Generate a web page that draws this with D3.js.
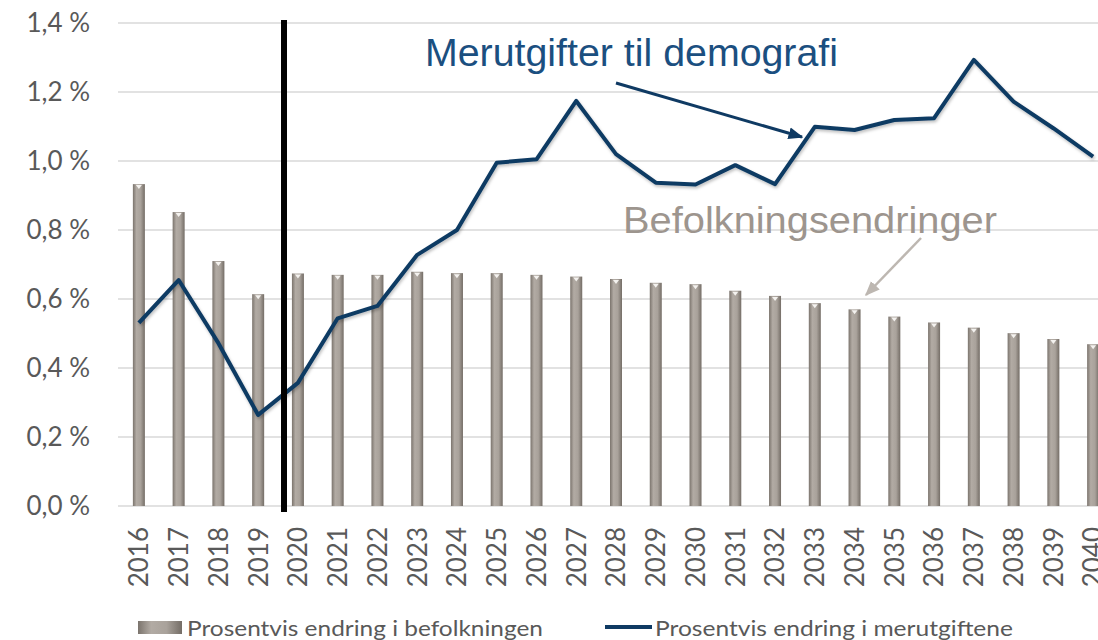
<!DOCTYPE html>
<html>
<head>
<meta charset="utf-8">
<script src="https://cdn.jsdelivr.net/npm/d3@7"></script>
<style>
  body { margin: 0; background: #fff; }
  svg { display: block; }
</style>
</head>
<body>
<div id="chart"></div>
<script>
const years = ["2016", "2017", "2018", "2019", "2020", "2021", "2022", "2023", "2024", "2025",
               "2026", "2027", "2028", "2029", "2030", "2031", "2032", "2033", "2034", "2035",
               "2036", "2037", "2038", "2039", "2040"];

// Prosentvis endring i befolkningen
const befolkning = [0.933, 0.852, 0.710, 0.614, 0.674, 0.670, 0.670, 0.679, 0.675, 0.675,
                    0.670, 0.665, 0.658, 0.647, 0.643, 0.624, 0.609, 0.588, 0.570, 0.549,
                    0.532, 0.517, 0.501, 0.484, 0.469];

// Prosentvis endring i merutgiftene
const merutgifter = [0.531, 0.655, 0.472, 0.264, 0.357, 0.544, 0.580, 0.728, 0.800, 0.995,
                     1.005, 1.174, 1.020, 0.937, 0.932, 0.988, 0.933, 1.099, 1.090, 1.119,
                     1.124, 1.293, 1.172, 1.095, 1.013];

const yTicks = [0, 0.2, 0.4, 0.6, 0.8, 1.0, 1.2, 1.4];

const legendLabels = ["Prosentvis endring i befolkningen", "Prosentvis endring i merutgiftene"];

const data = years.map((year, i) => ({ year, pop: befolkning[i], cost: merutgifter[i] }));

const width = 1098, height = 640;

const svg = d3.select("#chart")
    .append("svg")
    .attr("width", width)
    .attr("height", height);

const defs = svg.append("defs");

const barGrad = defs.append("linearGradient")
    .attr("id", "barGrad")
    .attr("x1", "0%").attr("x2", "100%").attr("y1", "0%").attr("y2", "0%");
barGrad.append("stop").attr("offset", "0%").attr("stop-color", "#7b746d");
barGrad.append("stop").attr("offset", "30%").attr("stop-color", "#b2aba4");
barGrad.append("stop").attr("offset", "65%").attr("stop-color", "#a9a29b");
barGrad.append("stop").attr("offset", "100%").attr("stop-color", "#746d66");

const shadow = defs.append("filter").attr("id", "lineShadow")
    .attr("x", "-5%").attr("y", "-5%").attr("width", "110%").attr("height", "120%");
shadow.append("feDropShadow")
    .attr("dx", 1).attr("dy", 2).attr("stdDeviation", 1.5)
    .attr("flood-color", "#000").attr("flood-opacity", 0.25);

const x = d3.scaleBand()
    .domain(years)
    .range([119, 1113])
    .paddingInner(0)
    .paddingOuter(0);

const y = d3.scaleLinear()
    .domain([0, 1.4])
    .range([506, 23]);

const fmt = d => d3.format(".1f")(d).replace(".", ",") + " %";

// gridlines
svg.append("g")
    .selectAll("line")
    .data(yTicks)
    .enter().append("line")
    .attr("x1", 118)
    .attr("x2", width)
    .attr("y1", d => y(d))
    .attr("y2", d => y(d))
    .attr("stroke", "#d9d9d9")
    .attr("stroke-width", 1.5);

// y axis labels
svg.append("g")
    .selectAll("text")
    .data(yTicks)
    .enter().append("text")
    .attr("x", 90)
    .attr("y", d => y(d))
    .attr("dy", "0.36em")
    .attr("text-anchor", "end")
    .attr("font-family", "Lato, 'Open Sans', sans-serif")
    .attr("font-size", 26)
    .attr("fill", "#595959")
    .text(fmt);

// bars
const barW = 12;
const bars = svg.append("g");
bars.selectAll("rect")
    .data(data)
    .enter().append("rect")
    .attr("x", d => x(d.year) + x.bandwidth() / 2 - barW / 2)
    .attr("y", d => y(d.pop))
    .attr("width", barW)
    .attr("height", d => y(0) - y(d.pop))
    .attr("fill", "url(#barGrad)");

// small bevel highlight on bar tops
bars.selectAll("path")
    .data(data)
    .enter().append("path")
    .attr("d", d => {
        const cx = x(d.year) + x.bandwidth() / 2, top = y(d.pop);
        return `M${cx - 3},${top + 1}L${cx + 3},${top + 1}L${cx},${top + 5}Z`;
    })
    .attr("fill", "#f4f2ef");

// x axis labels (rotated)
svg.append("g")
    .selectAll("text")
    .data(years)
    .enter().append("text")
    .attr("transform", d => `translate(${x(d) + x.bandwidth() / 2},527) rotate(-90)`)
    .attr("dy", "0.36em")
    .attr("text-anchor", "end")
    .attr("font-family", "Lato, 'Open Sans', sans-serif")
    .attr("font-size", 26)
    .attr("fill", "#595959")
    .text(d => d);

// line
const line = d3.line()
    .x(d => x(d.year) + x.bandwidth() / 2)
    .y(d => y(d.cost));

svg.append("path")
    .datum(data)
    .attr("d", line)
    .attr("fill", "none")
    .attr("stroke", "#0f3a63")
    .attr("stroke-width", 4)
    .attr("stroke-linejoin", "round")
    .attr("filter", "url(#lineShadow)");

// vertical divider between 2019 and 2020
const divX = x("2019") + x.bandwidth() * 1.15;
svg.append("line")
    .attr("x1", divX).attr("x2", divX)
    .attr("y1", 20).attr("y2", 512)
    .attr("stroke", "#000")
    .attr("stroke-width", 6);

// annotations
defs.append("marker")
    .attr("id", "arrowBlue")
    .attr("viewBox", "0 0 10 10")
    .attr("refX", 9).attr("refY", 5)
    .attr("markerWidth", 5).attr("markerHeight", 5)
    .attr("orient", "auto")
    .append("path").attr("d", "M0,1L10,5L0,9Z").attr("fill", "#0f3a63");

defs.append("marker")
    .attr("id", "arrowGray")
    .attr("viewBox", "0 0 10 10")
    .attr("refX", 9).attr("refY", 5)
    .attr("markerWidth", 6).attr("markerHeight", 6)
    .attr("orient", "auto")
    .append("path").attr("d", "M0,1L10,5L0,9Z").attr("fill", "#bdb7b1");

svg.append("text")
    .attr("x", 425)
    .attr("y", 66)
    .attr("font-family", "'Liberation Sans', Arial, sans-serif")
    .attr("font-size", 38)
    .attr("textLength", 413)
    .attr("lengthAdjust", "spacingAndGlyphs")
    .attr("fill", "#1b4f80")
    .text("Merutgifter til demografi");

svg.append("line")
    .attr("x1", 616).attr("y1", 83)
    .attr("x2", 802).attr("y2", 137)
    .attr("stroke", "#0f3a63")
    .attr("stroke-width", 3)
    .attr("marker-end", "url(#arrowBlue)");

svg.append("text")
    .attr("x", 623)
    .attr("y", 233)
    .attr("font-family", "'Liberation Sans', Arial, sans-serif")
    .attr("font-size", 36)
    .attr("textLength", 374)
    .attr("lengthAdjust", "spacingAndGlyphs")
    .attr("fill", "#9d958e")
    .text("Befolkningsendringer");

svg.append("line")
    .attr("x1", 921).attr("y1", 238)
    .attr("x2", 866).attr("y2", 295)
    .attr("stroke", "#bdb7b1")
    .attr("stroke-width", 2.5)
    .attr("marker-end", "url(#arrowGray)");

// legend
const legend = svg.append("g")
    .attr("font-family", "Lato, 'Open Sans', sans-serif")
    .attr("font-size", 22)
    .attr("fill", "#595959");

legend.append("rect")
    .attr("x", 138).attr("y", 621)
    .attr("width", 44).attr("height", 13)
    .attr("fill", "url(#barGrad)");
legend.append("text")
    .attr("x", 187).attr("y", 628)
    .attr("dy", "0.36em")
    .attr("textLength", 356)
    .attr("lengthAdjust", "spacingAndGlyphs")
    .text(legendLabels[0]);

legend.append("line")
    .attr("x1", 605).attr("x2", 652)
    .attr("y1", 627).attr("y2", 627)
    .attr("stroke", "#0f3a63")
    .attr("stroke-width", 4);
legend.append("text")
    .attr("x", 655).attr("y", 628)
    .attr("dy", "0.36em")
    .attr("textLength", 358)
    .attr("lengthAdjust", "spacingAndGlyphs")
    .text(legendLabels[1]);
</script>
</body>
</html>
